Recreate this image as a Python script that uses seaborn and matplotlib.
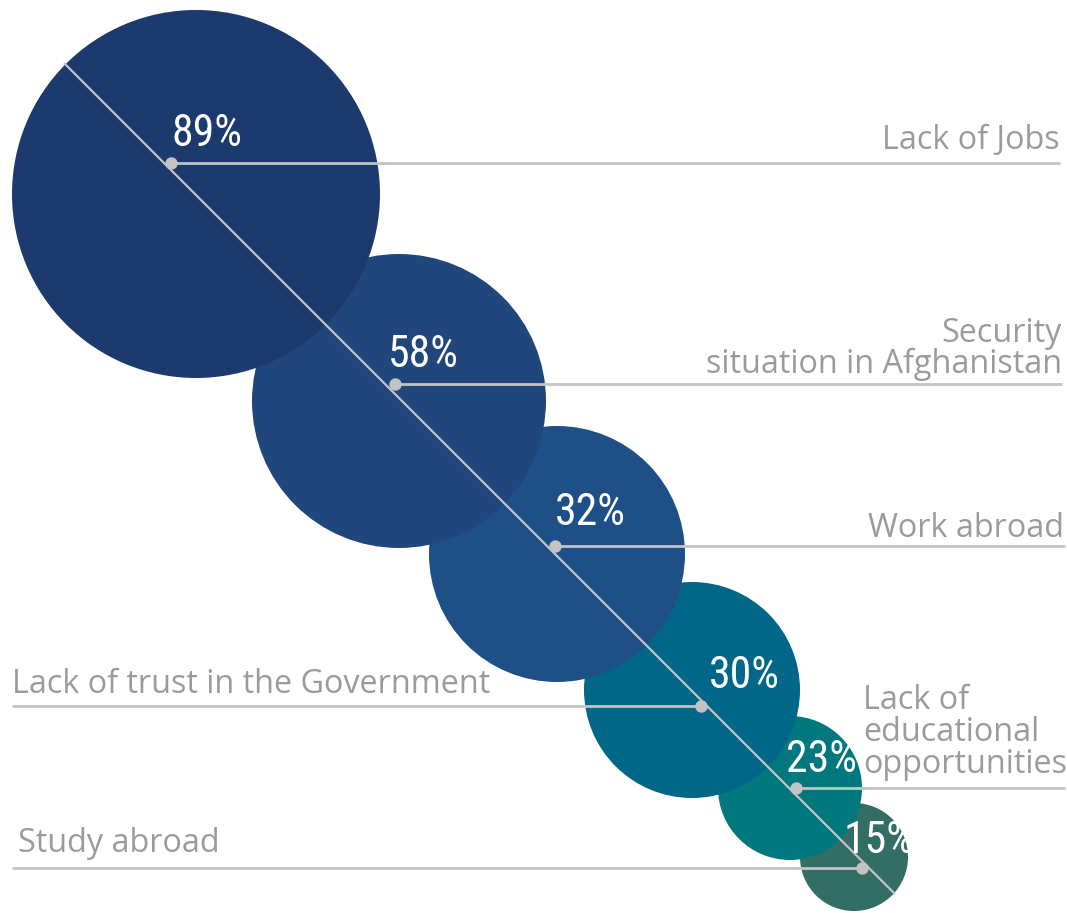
import matplotlib
matplotlib.use("Agg")
import matplotlib.pyplot as plt
from matplotlib import font_manager
from matplotlib.patches import Circle
import seaborn as sns
import pandas as pd

# dados do grafico
categories = ["Lack of Jobs", "Security\nsituation in Afghanistan", "Work abroad",
              "Lack of trust in the Government", "Lack of\neducational\nopportunities",
              "Study abroad"]
percents = [89, 58, 32, 30, 23, 15]

# layout em pixels (figura 1067x913)
centers_x = [196, 399, 557, 692, 790, 854]
centers_y = [194, 401, 554, 690, 788, 857]
radii = [184, 147, 128, 108, 72, 54]
colors = ["#1d3a6e", "#20467c", "#1f4f87", "#006789", "#00787e", "#336e64"]

dot_x = [171, 395, 555, 701, 796, 862]
dot_y = [163, 384, 546, 706, 788, 868]
line_end_x = [1060, 1062, 1065, 12, 1065, 12]

pct_x = [172, 388, 555, 709, 786, 844]
pct_y = [146, 367, 525, 688, 772, 853]

lab_x = [1060, 1062, 1064, 12, 863, 18]
lab_y = [[149], [342, 373], [537], [693], [709, 741, 773], [852]]
lab_ha = ["right", "right", "right", "left", "left", "left"]

grey_line = "#c3c3c6"
grey_text = "#9a9b9f"

sns.set_style("white")
plt.rcParams["font.family"] = ["Open Sans", "DejaVu Sans"]

# fonte condensada para os percentuais, se existir
installed = {f.name for f in font_manager.fontManager.ttflist}
pct_font, pct_size = "Roboto", 26
for name in ["Roboto Condensed", "Liberation Sans Narrow", "Open Sans Condensed",
             "Noto Sans Condensed", "DejaVu Sans Condensed"]:
    if name in installed:
        pct_font, pct_size = name, 31.5
        break

fig = plt.figure(figsize=(10.67, 9.13), dpi=100)
ax = fig.add_axes([0, 0, 1, 1])
ax.set_xlim(0, 1067)
ax.set_ylim(913, 0)
ax.set_aspect("equal")
ax.axis("off")

# circulos: os maiores ficam por cima
for i in range(len(percents)):
    c = Circle((centers_x[i], centers_y[i]), radii[i], color=colors[i],
               lw=0, zorder=10 - i)
    ax.add_patch(c)

# linha diagonal
ax.plot([64, 895], [63, 894], color=grey_line, lw=1.6, zorder=20,
        solid_capstyle="butt")

# linhas horizontais
for i in range(len(percents)):
    ax.plot([dot_x[i], line_end_x[i]], [dot_y[i], dot_y[i]], color=grey_line,
            lw=2.0, zorder=20, solid_capstyle="butt")

df = pd.DataFrame({"x": dot_x, "y": dot_y})
sns.scatterplot(data=df, x="x", y="y", ax=ax, color=grey_line, s=80,
                linewidth=0, zorder=21, legend=False)
ax.set_xlabel("")
ax.set_ylabel("")

# percentuais
for i, p in enumerate(percents):
    ax.text(pct_x[i], pct_y[i], f"{p}%", color="white", fontsize=pct_size,
            family=[pct_font, "DejaVu Sans"], weight="normal",
            ha="left", va="baseline", zorder=30)

# rotulos
for i, cat in enumerate(categories):
    for line, y in zip(cat.split("\n"), lab_y[i]):
        ax.text(lab_x[i], y, line, color=grey_text, fontsize=23.3,
                ha=lab_ha[i], va="baseline", zorder=30)

fig.savefig("out.png", dpi=100)
